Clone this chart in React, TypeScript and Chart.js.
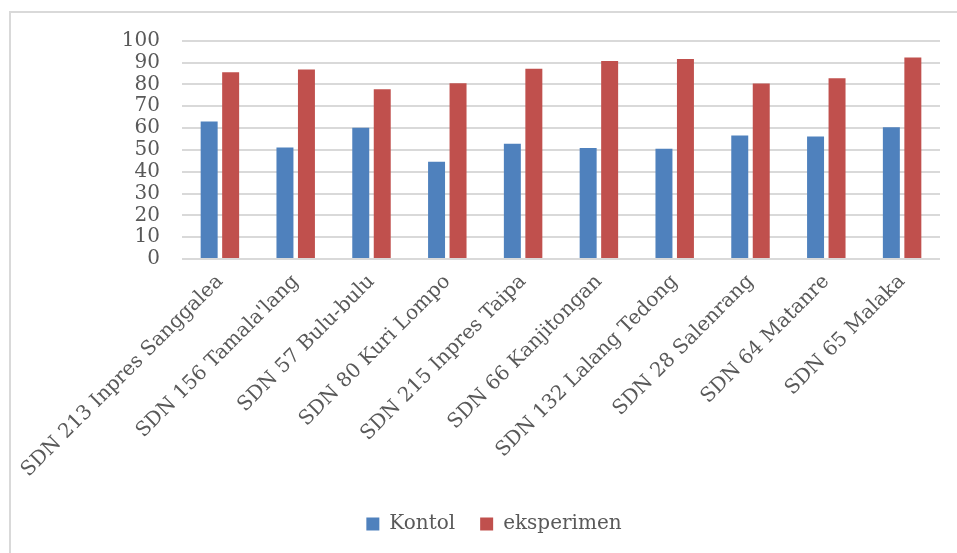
import React, { useEffect, useRef } from "react";
import { Chart, registerables } from "chart.js";

Chart.register(...registerables);

const categories = [
  "SDN 213 Inpres Sanggalea",
  "SDN 156 Tamala'lang",
  "SDN 57 Bulu-bulu",
  "SDN 80 Kuri Lompo",
  "SDN 215 Inpres Taipa",
  "SDN 66 Kanjitongan",
  "SDN 132 Lalang Tedong",
  "SDN 28 Salenrang",
  "SDN 64 Matanre",
  "SDN 65 Malaka",
];

const kontol = [63, 51.1, 60.1, 44.5, 52.8, 50.9, 50.5, 56.6, 56.1, 60.4];
const eksperimen = [85.6, 86.8, 77.8, 80.5, 87.1, 90.7, 91.6, 80.4, 82.8, 92.3];

const seriesNames = ["Kontol", "eksperimen"];
const seriesColors = ["#4F81BD", "#C0504D"];

const FONT = "'DejaVu Serif', serif";
const TEXT = "#595959";
const GRID = "#d9d9d9";

export default function App() {
  const ref = useRef<HTMLCanvasElement | null>(null);

  useEffect(() => {
    if (!ref.current) return;
    const chart = new Chart(ref.current, {
      type: "bar",
      data: {
        labels: categories,
        datasets: [
          {
            label: seriesNames[0],
            data: kontol,
            backgroundColor: seriesColors[0],
            categoryPercentage: 0.567,
            barPercentage: 0.79,
          },
          {
            label: seriesNames[1],
            data: eksperimen,
            backgroundColor: seriesColors[1],
            categoryPercentage: 0.567,
            barPercentage: 0.79,
          },
        ],
      },
      options: {
        responsive: false,
        animation: false,
        layout: { padding: { top: 27.7, left: 0, right: 0, bottom: 0 } },
        plugins: {
          legend: {
            display: true,
            position: "bottom",
            labels: {
              boxWidth: 13,
              boxHeight: 13,
              padding: 25,
              color: TEXT,
              font: { family: FONT, size: 20 },
            },
          },
          tooltip: { enabled: false },
        },
        scales: {
          x: {
            grid: { display: false },
            border: { display: false },
            ticks: {
              autoSkip: false,
              minRotation: 45,
              maxRotation: 45,
              padding: 3,
              color: TEXT,
              font: { family: FONT, size: 20 },
            },
            afterFit: (s: any) => {
              s.height = 230;
              s.paddingLeft = 0;
              s.paddingRight = 0;
              s.paddingTop = 0;
              s.paddingBottom = 0;
            },
          },
          y: {
            min: 0,
            max: 100,
            border: { display: false },
            grid: { color: GRID, lineWidth: 2, drawTicks: false },
            ticks: {
              stepSize: 10,
              autoSkip: false,
              padding: 22,
              color: TEXT,
              font: { family: FONT, size: 20 },
            },
            afterFit: (s: any) => {
              s.width = 171;
              s.paddingTop = 0;
              s.paddingBottom = 0;
            },
          },
          y2: {
            type: "linear",
            position: "right",
            display: true,
            grid: { display: false },
            border: { display: false },
            ticks: { display: false },
            afterFit: (s: any) => {
              s.width = 37;
              s.paddingTop = 0;
              s.paddingBottom = 0;
            },
          },
        },
      },
    });
    return () => chart.destroy();
  }, []);

  return (
    <div
      style={{
        position: "fixed",
        left: 0,
        top: 0,
        width: 957,
        height: 553,
        overflow: "hidden",
        background: "#fff",
      }}
    >
      <div
        style={{
          position: "absolute",
          left: 9,
          top: 11,
          width: 1000,
          height: 600,
          borderTop: `2px solid ${GRID}`,
          borderLeft: `2px solid ${GRID}`,
        }}
      >
        <canvas ref={ref} width={966} height={531} style={{ display: "block" }} />
      </div>
    </div>
  );
}
